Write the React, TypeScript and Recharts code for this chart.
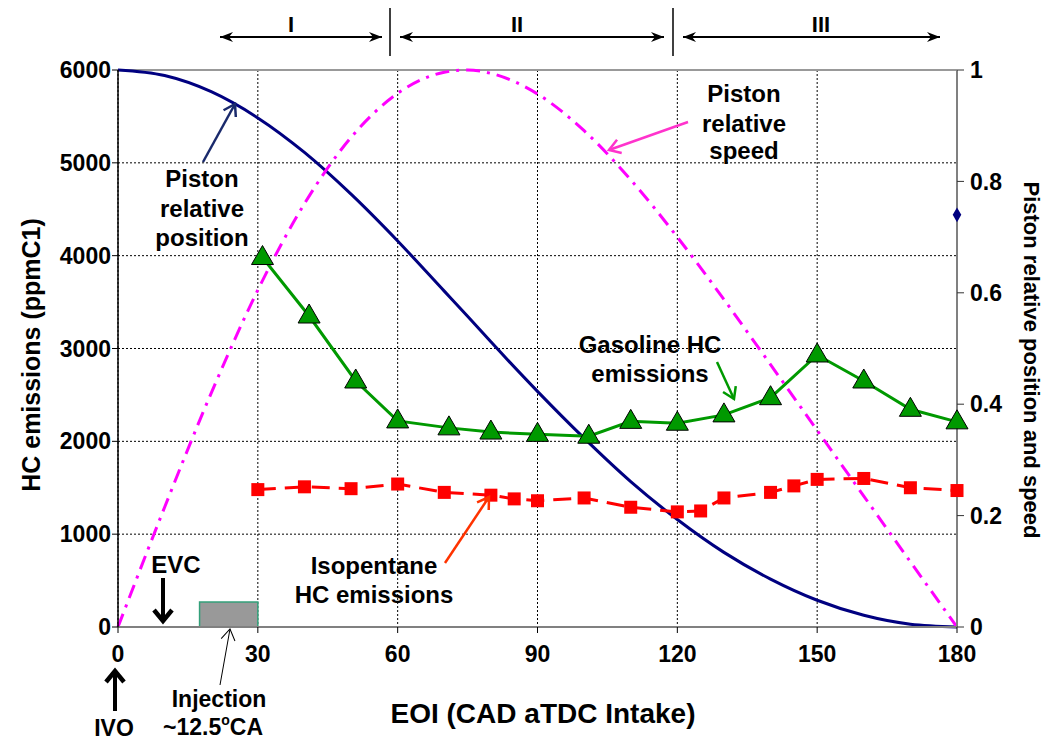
import React from 'react';
import {
  ComposedChart,
  Line,
  Scatter,
  XAxis,
  YAxis,
  CartesianGrid,
  ReferenceArea,
  ReferenceLine,
} from 'recharts';

// piston kinematics (right axis, 0..1)
const CRANK_ANGLE = [0, 10, 20, 30, 40, 50, 60, 70, 75, 80, 90, 100, 110, 120, 130, 140, 150, 160, 170, 180];
const PISTON_POSITION = [1, 0.99, 0.961, 0.914, 0.852, 0.777, 0.693, 0.603, 0.558, 0.512, 0.423, 0.339, 0.261, 0.193, 0.134, 0.086, 0.048, 0.021, 0.005, 0];
const PISTON_SPEED = [0, 0.215, 0.42, 0.605, 0.76, 0.879, 0.958, 0.996, 1.0, 0.994, 0.957, 0.891, 0.803, 0.7, 0.588, 0.471, 0.353, 0.235, 0.117, 0];

// gasoline HC emissions (ppmC1)
const GAS_EOI = [31, 41, 51, 60, 71, 80, 90, 101, 110, 120, 130, 140, 150, 160, 170, 180];
const GAS_HC = [3980, 3350, 2650, 2220, 2145, 2100, 2075, 2055, 2215, 2195, 2285, 2470, 2930, 2650, 2345, 2210];

// isopentane HC emissions (ppmC1)
const ISO_EOI = [30, 40, 50, 60, 70, 80, 85, 90, 100, 110, 120, 125, 130, 140, 145, 150, 160, 170, 180];
const ISO_HC = [1480, 1510, 1490, 1540, 1450, 1420, 1380, 1360, 1390, 1290, 1240, 1250, 1390, 1450, 1520, 1590, 1600, 1500, 1470];

const STRAY_POINT = [{ x: 180, y: 0.74 }];

const X_TICKS = [0, 30, 60, 90, 120, 150, 180];
const LEFT_TICKS = [0, 1000, 2000, 3000, 4000, 5000, 6000];
const RIGHT_TICKS = [0, 0.2, 0.4, 0.6, 0.8, 1];

const pistonData = CRANK_ANGLE.map((x, i) => ({ x, pos: PISTON_POSITION[i], speed: PISTON_SPEED[i] }));
const gasData = GAS_EOI.map((x, i) => ({ x, hc: GAS_HC[i] }));
const isoData = ISO_EOI.map((x, i) => ({ x, hc: ISO_HC[i] }));

const FONT = '"Liberation Sans", Arial, sans-serif';
const tickStyle = { fontFamily: FONT, fontWeight: 700, fontSize: 23, fill: '#000' };

const Triangle = (props: any) => {
  const { cx, cy } = props;
  if (cx == null || cy == null) return null;
  return (
    <polygon
      points={`${cx},${cy - 12} ${cx - 11},${cy + 7} ${cx + 11},${cy + 7}`}
      fill="#009900"
      stroke="#000"
      strokeWidth={1}
    />
  );
};

const Square = (props: any) => {
  const { cx, cy } = props;
  if (cx == null || cy == null) return null;
  return <rect x={cx - 6.5} y={cy - 6.5} width={13} height={13} fill="#ff0000" />;
};

const vHead = (id: string, color: string, w = 2.5) => (
  <marker id={id} markerUnits="userSpaceOnUse" markerWidth="18" markerHeight="18" refX="14" refY="9" orient="auto">
    <path d="M3,2 L14,9 L3,16" fill="none" stroke={color} strokeWidth={w} />
  </marker>
);

const Annotations = () => (
  <svg
    width={1047}
    height={743}
    style={{ position: 'absolute', left: 0, top: 0, pointerEvents: 'none', fontFamily: FONT, fontWeight: 700 }}
  >
    <defs>
      <marker id="dbl" markerUnits="userSpaceOnUse" markerWidth="14" markerHeight="12" refX="13" refY="6" orient="auto-start-reverse">
        <path d="M0,1 L13,6 L0,11 L4,6 Z" fill="#000" />
      </marker>
      {vHead('vNavy', '#1a2a6c')}
      {vHead('vPink', '#ff33cc')}
      {vHead('vGreen', '#009900')}
      {vHead('vRed', '#ff3300')}
      {vHead('vThin', '#000', 1)}
      <marker id="bold" markerUnits="userSpaceOnUse" markerWidth="24" markerHeight="24" refX="12" refY="12" orient="auto">
        <path d="M2,3 L13,12 L2,21" fill="none" stroke="#000" strokeWidth={4.5} />
      </marker>
    </defs>

    {/* regions */}
    <line x1={390} y1={8} x2={390} y2={56} stroke="#000" strokeWidth={1.5} />
    <line x1={673} y1={8} x2={673} y2={56} stroke="#000" strokeWidth={1.5} />
    <line x1={220} y1={37} x2={382} y2={37} stroke="#000" strokeWidth={2} markerStart="url(#dbl)" markerEnd="url(#dbl)" />
    <line x1={400} y1={37} x2={664} y2={37} stroke="#000" strokeWidth={2} markerStart="url(#dbl)" markerEnd="url(#dbl)" />
    <line x1={683} y1={37} x2={940} y2={37} stroke="#000" strokeWidth={2} markerStart="url(#dbl)" markerEnd="url(#dbl)" />
    <text x={291} y={32} fontSize={22} textAnchor="middle">I</text>
    <text x={517} y={32} fontSize={22} textAnchor="middle">II</text>
    <text x={821} y={32} fontSize={22} textAnchor="middle">III</text>

    {/* axis titles */}
    <text x={0} y={0} fontSize={25} textAnchor="middle" transform="translate(40,355) rotate(-90)">HC emissions (ppmC1)</text>
    <text x={0} y={0} fontSize={22} textAnchor="middle" transform="translate(1024,360) rotate(90)">Piston relative position and speed</text>
    <text x={543} y={723} fontSize={28} textAnchor="middle">EOI (CAD aTDC Intake)</text>

    {/* piston position */}
    <text fontSize={24} textAnchor="middle">
      <tspan x={202} y={187}>Piston</tspan>
      <tspan x={202} y={217}>relative</tspan>
      <tspan x={202} y={246}>position</tspan>
    </text>
    <line x1={203} y1={162} x2={235} y2={104} stroke="#1a2a6c" strokeWidth={2.5} markerEnd="url(#vNavy)" />

    {/* piston speed */}
    <text fontSize={24} textAnchor="middle">
      <tspan x={744} y={102}>Piston</tspan>
      <tspan x={744} y={132}>relative</tspan>
      <tspan x={744} y={159}>speed</tspan>
    </text>
    <line x1={688} y1={122} x2={609} y2={150} stroke="#ff33cc" strokeWidth={2.5} markerEnd="url(#vPink)" />

    {/* gasoline */}
    <text fontSize={24} textAnchor="middle">
      <tspan x={650} y={353}>Gasoline HC</tspan>
      <tspan x={650} y={382}>emissions</tspan>
    </text>
    <line x1={717} y1={362} x2={734} y2={399} stroke="#009900" strokeWidth={2.5} markerEnd="url(#vGreen)" />

    {/* isopentane */}
    <text fontSize={24} textAnchor="middle">
      <tspan x={374} y={574}>Isopentane</tspan>
      <tspan x={374} y={603}>HC emissions</tspan>
    </text>
    <line x1={445} y1={563} x2={489} y2={497} stroke="#ff3300" strokeWidth={2.5} markerEnd="url(#vRed)" />

    {/* EVC */}
    <text x={176} y={573} fontSize={24} textAnchor="middle">EVC</text>
    <line x1={163} y1={578} x2={163} y2={620} stroke="#000" strokeWidth={4} markerEnd="url(#bold)" />

    {/* IVO */}
    <line x1={115} y1={711} x2={115} y2={672} stroke="#000" strokeWidth={4} markerEnd="url(#bold)" />
    <text x={114} y={736} fontSize={23} textAnchor="middle">IVO</text>

    {/* injection */}
    <line x1={220} y1={685} x2={230} y2={629} stroke="#000" strokeWidth={1} markerEnd="url(#vThin)" />
    <text fontSize={23} textAnchor="middle">
      <tspan x={219} y={707}>Injection</tspan>
      <tspan x={213} y={735}>~12.5</tspan>
      <tspan fontSize={14} dy={-10}>o</tspan>
      <tspan dy={10}>CA</tspan>
    </text>
  </svg>
);

export default function App() {
  return (
    <div style={{ position: 'absolute', left: 0, top: 0, width: 1047, height: 743, background: '#fff' }}>
      <ComposedChart
        width={1047}
        height={743}
        margin={{ top: 70, right: 20, bottom: 76, left: 0 }}
        style={{ fontFamily: FONT }}
      >
        <CartesianGrid yAxisId="left" stroke="#000" strokeDasharray="2 2" strokeWidth={1} />
        <XAxis
          dataKey="x"
          type="number"
          domain={[0, 180]}
          ticks={X_TICKS}
          allowDuplicatedCategory={false}
          height={40}
          tick={tickStyle}
          tickSize={6}
          tickMargin={13}
          axisLine={{ stroke: '#808080', strokeWidth: 2 }}
          tickLine={{ stroke: '#000' }}
        />
        <YAxis
          yAxisId="left"
          orientation="left"
          domain={[0, 6000]}
          ticks={LEFT_TICKS}
          width={118}
          tick={tickStyle}
          tickSize={6}
          tickMargin={1}
          axisLine={{ stroke: '#000', strokeWidth: 1.5 }}
          tickLine={{ stroke: '#000' }}
        />
        <YAxis
          yAxisId="right"
          orientation="right"
          domain={[0, 1]}
          ticks={RIGHT_TICKS}
          width={70}
          tick={tickStyle}
          tickSize={7}
          tickMargin={6}
          axisLine={{ stroke: '#808080', strokeWidth: 2 }}
          tickLine={{ stroke: '#333' }}
        />
        <ReferenceLine yAxisId="left" y={6000} stroke="#999" strokeWidth={2} />
        <ReferenceArea
          yAxisId="left"
          x1={17.5}
          x2={30}
          y1={0}
          y2={270}
          fill="#999999"
          fillOpacity={1}
          stroke="#33a07a"
          strokeWidth={1.5}
        />
        <Line
          yAxisId="right"
          data={pistonData}
          dataKey="pos"
          type="monotone"
          stroke="#000080"
          strokeWidth={3}
          dot={false}
          isAnimationActive={false}
        />
        <Line
          yAxisId="right"
          data={pistonData}
          dataKey="speed"
          type="monotone"
          stroke="#ff00ff"
          strokeWidth={3}
          strokeDasharray="14 7 3 7"
          dot={false}
          isAnimationActive={false}
        />
        <Line
          yAxisId="left"
          data={isoData}
          dataKey="hc"
          type="linear"
          stroke="#ff0000"
          strokeWidth={3}
          strokeDasharray="18 9"
          dot={<Square />}
          isAnimationActive={false}
        />
        <Line
          yAxisId="left"
          data={gasData}
          dataKey="hc"
          type="linear"
          stroke="#009900"
          strokeWidth={3}
          dot={<Triangle />}
          isAnimationActive={false}
        />
        <Scatter
          yAxisId="right"
          data={STRAY_POINT}
          dataKey="y"
          fill="#000080"
          shape="diamond"
          isAnimationActive={false}
        />
      </ComposedChart>
      <Annotations />
    </div>
  );
}
